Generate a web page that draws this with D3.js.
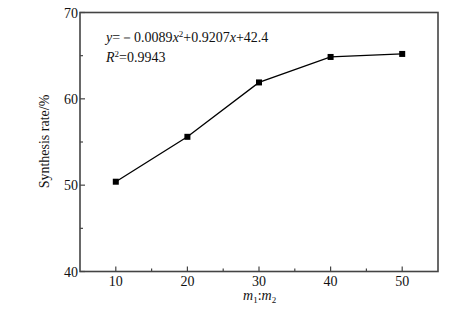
<!DOCTYPE html>
<html>
<head>
<meta charset="utf-8">
<script src="https://cdn.jsdelivr.net/npm/d3@7"></script>
<style>
  body { margin: 0; background: #fff; }
  text { font-family: "Liberation Serif", "Times New Roman", serif; fill: #111; }
</style>
</head>
<body>
<script>
  // chart values
  const ratios = [10, 20, 30, 40, 50]
  const rates = [50.4, 55.6, 61.9, 64.85, 65.2]
  const xTicks = [10, 20, 30, 40, 50]
  const yTicks = [40, 50, 60, 70]

  const W = 473, H = 325
  const m = {left: 80, top: 12.5, right: 35, bottom: 53.5}

  const svg = d3.select("body").append("svg")
      .attr("width", W)
      .attr("height", H)

  const x = d3.scaleLinear().domain([5, 55]).range([m.left, W - m.right])
  const y = d3.scaleLinear().domain([40, 70]).range([H - m.bottom, m.top])

  const axisColor = "#444"

  // minor ticks
  const xMinor = d3.range(15, 55, 10)
  const yMinor = d3.range(45, 70, 10)

  svg.append("g").selectAll("line").data(xMinor).enter().append("line")
    .attr("x1", d => x(d)).attr("x2", d => x(d))
    .attr("y1", y(40)).attr("y2", y(40) - 3)
    .attr("stroke", axisColor).attr("stroke-width", 1.2)

  svg.append("g").selectAll("line").data(yMinor).enter().append("line")
    .attr("x1", x(5)).attr("x2", x(5) + 3)
    .attr("y1", d => y(d)).attr("y2", d => y(d))
    .attr("stroke", axisColor).attr("stroke-width", 1.2)

  // major ticks
  svg.append("g").selectAll("line").data(xTicks).enter().append("line")
    .attr("x1", d => x(d)).attr("x2", d => x(d))
    .attr("y1", y(40)).attr("y2", y(40) - 5)
    .attr("stroke", axisColor).attr("stroke-width", 1.2)

  svg.append("g").selectAll("line").data(yTicks).enter().append("line")
    .attr("x1", x(5)).attr("x2", x(5) + 5)
    .attr("y1", d => y(d)).attr("y2", d => y(d))
    .attr("stroke", axisColor).attr("stroke-width", 1.2)

  // frame
  svg.append("rect")
    .attr("x", x(5)).attr("y", y(70))
    .attr("width", x(55) - x(5)).attr("height", y(40) - y(70))
    .attr("fill", "none").attr("stroke", axisColor).attr("stroke-width", 1.6)

  // tick labels
  svg.append("g").selectAll("text").data(xTicks).enter().append("text")
    .attr("x", d => x(d)).attr("y", y(40) + 14)
    .attr("text-anchor", "middle")
    .attr("font-size", 14)
    .text(d => d)

  svg.append("g").selectAll("text").data(yTicks).enter().append("text")
    .attr("x", x(5) - 2).attr("y", d => y(d) + 5)
    .attr("text-anchor", "end")
    .attr("font-size", 14)
    .text(d => d)

  // line + markers
  const pts = ratios.map((r, i) => [r, rates[i]])
  const line = d3.line().x(d => x(d[0])).y(d => y(d[1]))

  svg.append("path")
    .attr("d", line(pts))
    .attr("fill", "none")
    .attr("stroke", "#000")
    .attr("stroke-width", 1.3)

  svg.append("g").selectAll("rect").data(pts).enter().append("rect")
    .attr("x", d => x(d[0]) - 3).attr("y", d => y(d[1]) - 3)
    .attr("width", 6).attr("height", 6)
    .attr("fill", "#000")

  // axis titles
  svg.append("text")
    .attr("transform", "translate(49," + (y(55) - 0.5) + ")rotate(-90)")
    .attr("text-anchor", "middle")
    .attr("font-size", 14)
    .text("Synthesis rate/%")

  const xl = svg.append("text")
    .attr("x", 243).attr("y", 300)
    .attr("font-size", 14)
  xl.append("tspan").attr("font-style", "italic").text("m")
  xl.append("tspan").attr("font-size", 9).attr("dy", 3).text("1")
  xl.append("tspan").attr("dy", -3).text(":")
  xl.append("tspan").attr("font-style", "italic").text("m")
  xl.append("tspan").attr("font-size", 9).attr("dy", 3).text("2")

  // fit equation
  const eq = svg.append("text")
    .attr("x", 106).attr("y", 42)
    .attr("font-size", 14)
  eq.append("tspan").attr("font-style", "italic").text("y")
  eq.append("tspan").text("=－0.0089")
  eq.append("tspan").attr("font-style", "italic").text("x")
  eq.append("tspan").attr("font-size", 9).attr("dy", -5).text("2")
  eq.append("tspan").attr("dy", 5).text("+0.9207")
  eq.append("tspan").attr("font-style", "italic").text("x")
  eq.append("tspan").text("+42.4")

  const r2 = svg.append("text")
    .attr("x", 106).attr("y", 62)
    .attr("font-size", 14)
  r2.append("tspan").attr("font-style", "italic").text("R")
  r2.append("tspan").attr("font-size", 9).attr("dy", -5).text("2")
  r2.append("tspan").attr("dy", 5).text("=0.9943")
</script>
</body>
</html>
